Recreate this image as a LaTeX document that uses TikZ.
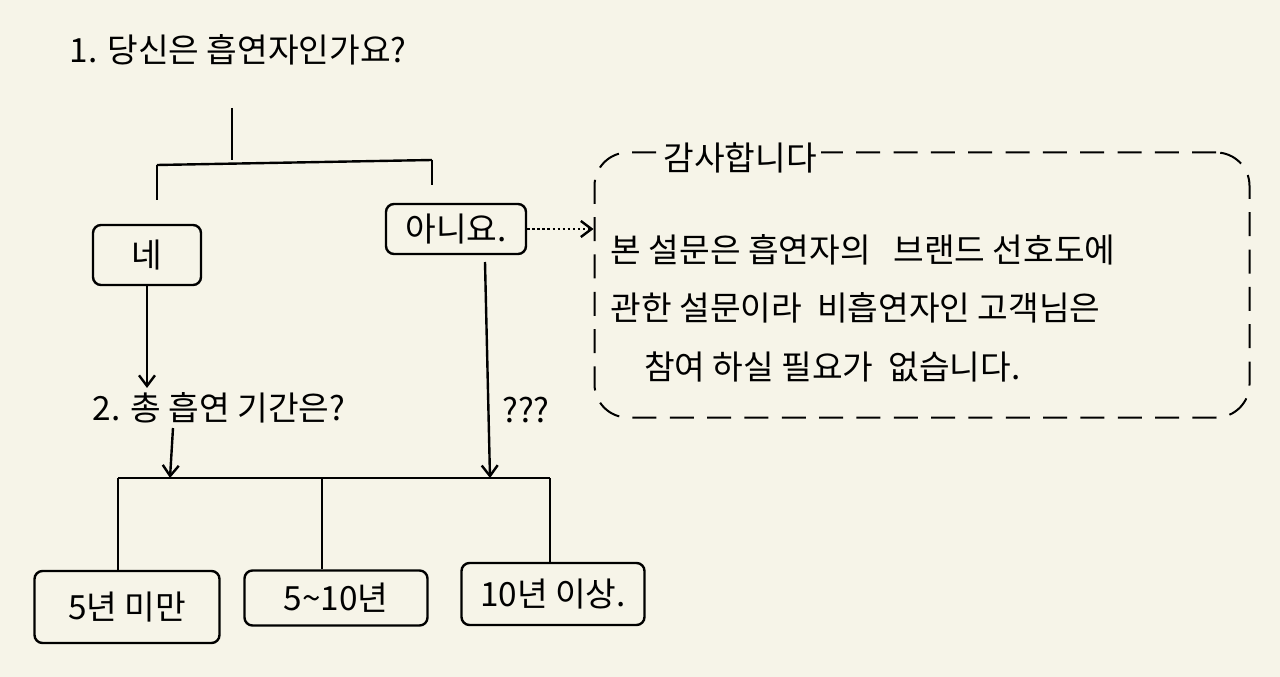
\documentclass[tikz,border=0pt]{standalone}
\usepackage{fontspec}
\setmainfont{Noto Sans CJK KR}
\usetikzlibrary{arrows.meta}
\definecolor{paper}{HTML}{F6F4E8}
\begin{document}
\begin{tikzpicture}[x=0.75pt,y=-0.75pt,
  ln/.style={line width=1.8pt,black},
  arr/.style={ln,-{Straight Barb[length=8pt,width=12pt]}},
  bx/.style={draw,line width=1.8pt,rounded corners=6pt,inner sep=0pt},
  txt/.style={font=\fontsize{25}{30}\selectfont}]
\fill[paper] (0,0) rectangle (1280,677);
\useasboundingbox (0,0) rectangle (1280,677);
\node[txt,anchor=west] (q1) at (65,50) {1. 당신은 흡연자인가요?};
\coordinate (t0) at (232,108);
\coordinate (t1) at (232,160);
\coordinate (tl) at (157,165);
\coordinate (tr) at (432,160);
\draw[ln] (t0)--(t1);
\draw[ln] (tl)--(tr);
\node[bx,minimum width=108pt*0.75,minimum height=60pt*0.75,txt] (yes) at (147,255) {네};
\node[bx,minimum width=140pt*0.75,minimum height=50pt*0.75,txt] (no) at (456,229) {아니요.};
\draw[ln] (tl)--(157,200);
\draw[ln] (tr)--(432,185);
\node[draw,dash pattern=on 18pt off 10pt,line width=1.5pt,rounded corners=25pt,minimum width=655pt*0.75,minimum height=265pt*0.75] (thx) at (922,285) {};
\node[txt,fill=paper,inner sep=3pt] (thxt) at (740,158) {감사합니다};
\node[txt,anchor=west,align=left] (body) at (606,308) {본 설문은 흡연자의 \ \ 브랜드 선호도에\\[14pt]관한 설문이라 \ 비흡연자인 고객님은\\[14pt]\quad 참여 하실 필요가 \ 없습니다.};
\draw[ln,dotted,-{Straight Barb[length=8pt,width=12pt]}] (no.east)--(thx.west|-no.east);
\node[txt,anchor=west] (q2) at (88,408) {2. 총 흡연 기간은?};
\draw[arr] (yes.south)--(q2.north-|yes.south);
\node[txt] (qm) at (526,410) {???};
\coordinate (h0) at (118,478);
\coordinate (h1) at (550,478);
\draw[ln] (h0)--(h1);
\draw[arr] (173,428)--(170,478);
\draw[arr] (485,262)--(490,478);
\node[bx,minimum width=185pt*0.75,minimum height=72pt*0.75,txt] (a1) at (127,607) {5년 미만};
\node[bx,minimum width=183pt*0.75,minimum height=55pt*0.75,txt] (a2) at (336,598) {5\textasciitilde10년};
\node[bx,minimum width=183pt*0.75,minimum height=62pt*0.75,txt] (a3) at (553,594) {10년 이상.};
\draw[ln] (h0)--(a1.north-|h0);
\draw[ln] (322,478)--(a2.north-|322,0);
\draw[ln] (h1)--(a3.north-|h1);
\end{tikzpicture}
\end{document}
